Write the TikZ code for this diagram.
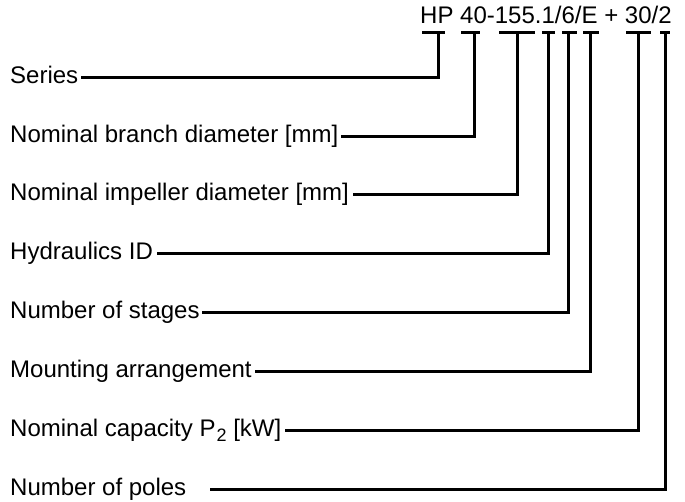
\documentclass[tikz,border=0pt]{standalone}
\usepackage{fontspec}
\setmainfont{Liberation Sans}
\newcommand{\lowsub}[1]{\kern1pt\raisebox{-5pt}{\fontsize{18}{20}\selectfont #1}}
\begin{document}
\begin{tikzpicture}[x=1pt,y=-1pt,
  lbl/.style={anchor=base west, inner sep=0pt, font=\fontsize{24}{28}\selectfont},
  bar/.style={line width=3pt, line cap=butt},
  conn/.style={line width=3pt, line join=miter, line cap=rect}]
\useasboundingbox (0,0) rectangle (685,501);
% code text
\node[lbl] (code) at (420,23) {HP 40-155.1/6/E + 30/2};
% bar tops (connector ends)
\coordinate (tHP) at (438.3,32);
\coordinate (t40) at (474.3,32);
\coordinate (t155) at (517.3,32);
\coordinate (t1) at (548.3,32);
\coordinate (t6) at (568.3,32);
\coordinate (tE) at (590.3,32);
\coordinate (t30) at (638.7,32);
\coordinate (t2) at (665.7,32);
% underline bars
\draw[bar] (422,32) -- (445,32);
\draw[bar] (461,32) -- (480,32);
\draw[bar] (499,32) -- (535,32);
\draw[bar] (542,32) -- (555,32);
\draw[bar] (562,32) -- (577,32);
\draw[bar] (583,32) -- (599,32);
\draw[bar] (626,32) -- (651,32);
\draw[bar] (660,32) -- (670,32);
% labels
\node[lbl] (series) at (10,83) {Series};
\node[lbl] (branch) at (10,142) {Nominal branch diameter [mm]};
\node[lbl] (impel) at (10,200.7) {Nominal impeller diameter [mm]};
\node[lbl] (hydr) at (10,259.5) {Hydraulics ID};
\node[lbl] (stages) at (10,318.3) {Number of stages};
\node[lbl] (mount) at (10,377.2) {Mounting arrangement};
\node[lbl] (cap) at (10,436.1) {Nominal capacity P\lowsub{2} [kW]};
\node[lbl] (poles) at (10,495) {Number of poles};
% connectors
\draw[conn] ([xshift=4pt,yshift=6pt]series.base east) -| (tHP);
\draw[conn] ([xshift=4pt,yshift=6pt]branch.base east) -| (t40);
\draw[conn] ([xshift=5pt,yshift=6pt]impel.base east) -| (t155);
\draw[conn] ([xshift=5pt,yshift=6pt]hydr.base east) -| (t1);
\draw[conn] ([xshift=4pt,yshift=6pt]stages.base east) -| (t6);
\draw[conn] ([xshift=5pt,yshift=6pt]mount.base east) -| (tE);
\draw[conn] ([xshift=5pt,yshift=6pt]cap.base east) -| (t30);
\draw[conn] ([xshift=25pt,yshift=6pt]poles.base east) -| (t2);
\end{tikzpicture}
\end{document}
